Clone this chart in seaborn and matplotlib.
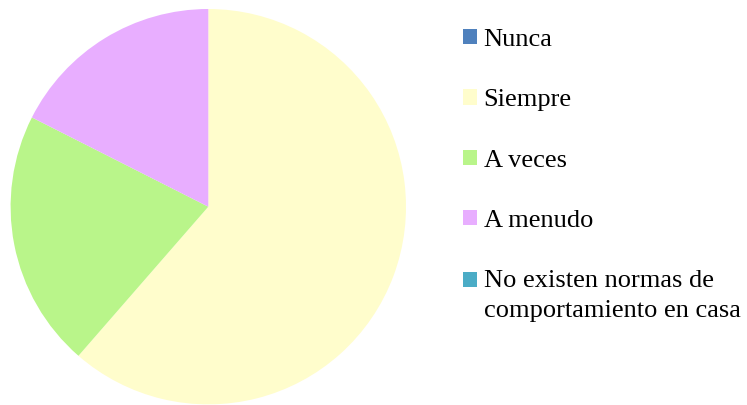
import matplotlib
matplotlib.use("Agg")
import matplotlib.pyplot as plt
import matplotlib.font_manager as fm
from matplotlib.legend_handler import HandlerPatch
import seaborn as sns

categories = ["Nunca", "Siempre", "A veces", "A menudo",
              "No existen normas de\ncomportamiento en casa"]
values = [0, 35, 12, 10, 0]
colors = ["#4F81BD", "#FFFDCC", "#B9F58A", "#E8AEFF", "#4BACC6"]

sns.set_theme(style="white")
plt.rcParams["font.family"] = "serif"
plt.rcParams["font.serif"] = ["Liberation Serif", "DejaVu Serif"]
plt.rcParams["text.color"] = "black"

FS = 19
prop = fm.FontProperties(family="Liberation Serif", size=FS)


class FirstLineHandler(HandlerPatch):
    def __init__(self, shift, **kw):
        super().__init__(**kw)
        self.shift = shift

    def create_artists(self, legend, orig_handle, xdescent, ydescent,
                       width, height, fontsize, trans):
        return super().create_artists(legend, orig_handle, xdescent,
                                      ydescent - self.shift * fontsize,
                                      width, height, fontsize, trans)


fig = plt.figure(figsize=(7.47, 4.05), dpi=100)
ax = fig.add_axes([10.6 / 747, 0.6 / 405, 395.4 / 747, 395.4 / 405])
wedges, _ = ax.pie(values, colors=colors, startangle=90, counterclock=False,
                   radius=1.0, wedgeprops=dict(linewidth=0))
ax.set_xlim(-1, 1)
ax.set_ylim(-1, 1)
ax.set_aspect("equal")
ax.axis("off")

leg = fig.legend(wedges, categories, loc="upper left",
                 bbox_to_anchor=(463 / 747, 1 - 29 / 405),
                 frameon=False, prop=prop, handlelength=0.52,
                 handleheight=0.52, handletextpad=0.26, labelspacing=1.45,
                 borderpad=0, borderaxespad=0,
                 handler_map={wedges[-1]: FirstLineHandler(0.6)})
for t in leg.get_texts():
    t.set_linespacing(1.45)
    t.set_color("black")

fig.savefig("out.png", dpi=100)
